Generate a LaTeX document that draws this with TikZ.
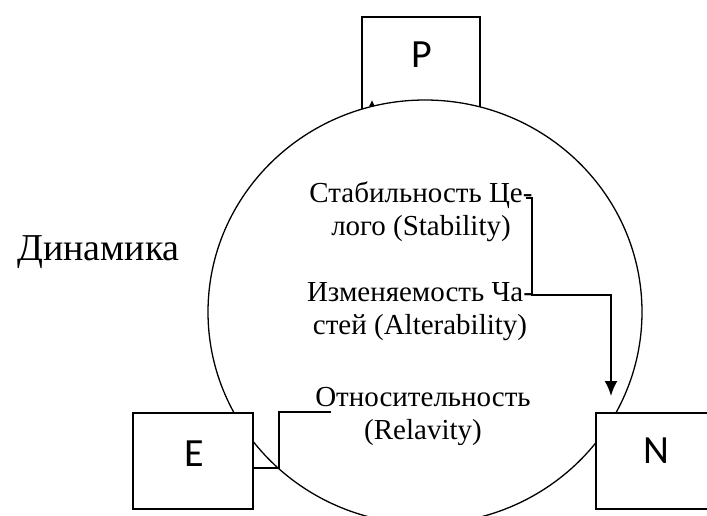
\documentclass[tikz,border=0pt]{standalone}
\usepackage{fontspec}
\setmainfont{Liberation Serif}
\newfontfamily\boxfont{Carlito}
\usetikzlibrary{arrows.meta}

\begin{document}
\begin{tikzpicture}[x=1pt, y=-1pt,
    box/.style={draw, line width=1.4pt, fill=white, inner sep=0pt},
    boxlabel/.style={font=\boxfont\fontsize{40}{40}\selectfont, inner sep=0pt, anchor=base},
    para/.style={font=\fontsize{29}{33}\selectfont, align=center, inner sep=0pt},
    link/.style={line width=2pt}]
          \useasboundingbox (0,0) rectangle (707,515);

          % P on top, mostly under the circle
          \node[box, minimum width=118pt, minimum height=113pt] (P) at (421,73.5) {};
          \node[boxlabel] (Ptext) at (422,67) {P};
          \coordinate (p1) at (372,140);
          \coordinate (p2) at (372,100);
          \draw[line width=1pt, -{Latex[length=6pt,width=6pt]}] (p1) -- (p2);

          % the circle
          \draw[line width=1.3pt, fill=white] (425,312) ellipse [x radius=217, y radius=212];

          \node[box, minimum width=120pt, minimum height=96pt] (E) at (193,461) {};
          \node[boxlabel] (Etext) at (194,466) {E};
          \node[box, minimum width=120pt, minimum height=96pt] (N) at (656,461) {};
          \node[boxlabel] (Ntext) at (656,463) {N};

          \node[font=\fontsize{38}{38}\selectfont, anchor=base west, inner sep=0pt] (dyn) at (17,260) {Динамика};

          \node[para] (stab) at (421,212) {Стабильность Це-\\лого (Stability)};
          \node[para] (alt) at (420,312) {Изменяемость Ча-\\стей (Alterability)};
          \begin{scope}
            \clip (0,0) rectangle (707,444);
            \node[para] (rel) at (423,417) {Относительность\\(Relavity)};
          \end{scope}

          % connectors
          \coordinate (s1) at (526,198);
          \coordinate (s2) at (532,198);
          \coordinate (s3) at (532,295);
          \coordinate (s4) at (611,295);
          \coordinate (s5) at (611,396);
          \draw[link, -{Latex[length=15pt,width=13pt]}] (s1) -- (s2) -- (s3) -- (s4) -- (s5);

          \coordinate (r1) at (331,412);
          \coordinate (r2) at (279,412);
          \coordinate (r3) at (279,468);
          \draw[link] (r1) -- (r2) -- (r3) -- (r3 -| E.east);
        \end{tikzpicture}
\end{document}
